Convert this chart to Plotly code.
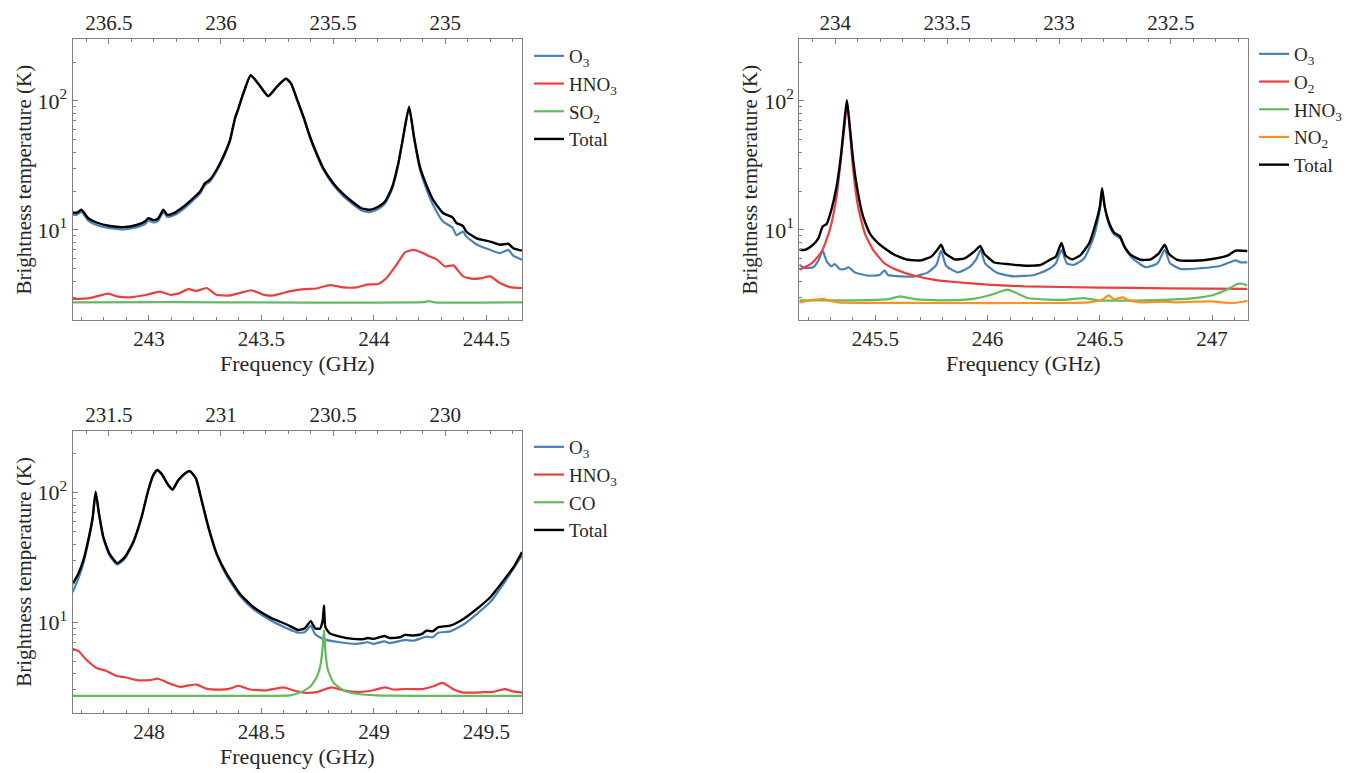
import plotly.graph_objects as go

# ---------------- Panel 1 (242.66-244.66 GHz) ----------------
p1_total_f = [242.661, 242.68, 242.70, 242.73, 242.767, 242.827, 242.886, 242.945, 242.982, 242.997,
              243.019, 243.04, 243.064, 243.081, 243.108, 243.153, 243.197, 243.227, 243.249, 243.27,
              243.30, 243.33, 243.36, 243.382, 243.397, 243.419, 243.452, 243.486, 243.530, 243.567,
              243.609, 243.632, 243.657, 243.687, 243.716, 243.745, 243.775, 243.819, 243.864, 243.908,
              243.945, 243.982, 244.019, 244.049, 244.079, 244.108, 244.130, 244.156, 244.178, 244.204,
              244.233, 244.263, 244.307, 244.349, 244.367, 244.396, 244.41, 244.456, 244.516, 244.56,
              244.597, 244.619, 244.658]
p1_total_t = [13.6, 13.6, 14.3, 12.3, 11.4, 10.7, 10.5, 10.9, 11.6, 12.3,
              11.9, 12.2, 14.3, 13.1, 13.4, 15.1, 17.6, 19.8, 23.0, 24.4,
              29.1, 36.9, 49.6, 73, 87, 114, 158, 136, 109, 128,
              149, 136, 104, 75, 52.7, 39.2, 30, 23, 18.9, 16.3,
              14.7, 14.3, 15.1, 16.6, 21, 32.7, 52.7, 90, 52.7, 30.9,
              22.3, 17.1, 13.5, 12.5, 11.3, 10.7, 9.7, 8.6, 8.1, 7.66,
              7.8, 7.2, 6.9]
p1_o3_f = p1_total_f
p1_o3_t = [13.1, 13.1, 13.8, 11.8, 10.9, 10.3, 10.1, 10.5, 11.1, 11.8,
           11.4, 11.7, 13.7, 12.6, 12.9, 14.5, 17.0, 19.1, 22.2, 23.6,
           28.3, 36.0, 48.6, 72, 86, 113, 157, 135, 108, 127,
           148, 135, 103, 73.5, 51.5, 38.2, 29.2, 22.3, 18.2, 15.7,
           14.1, 13.7, 14.5, 16.0, 20.3, 32, 52, 89, 51, 29.5,
           20.8, 15.6, 11.6, 10.4, 9.1, 9.7, 8.9, 7.7, 7.0, 6.6,
           7.0, 6.3, 5.86]
p1_hno3_f = [242.661, 242.738, 242.819, 242.856, 242.916, 242.99, 243.049, 243.093, 243.13, 243.175,
             243.212, 243.256, 243.30, 243.36, 243.404, 243.456, 243.508, 243.553, 243.597, 243.635,
             243.687, 243.745, 243.804, 243.864, 243.923, 243.967, 244.019, 244.056, 244.10, 244.138,
             244.175, 244.219, 244.249, 244.279, 244.316, 244.353, 244.396, 244.441, 244.479, 244.516,
             244.56, 244.604, 244.658]
p1_hno3_t = [2.91, 2.96, 3.2, 3.05, 3.0, 3.14, 3.32, 3.14, 3.2, 3.47,
             3.36, 3.54, 3.14, 3.1, 3.24, 3.4, 3.14, 3.1, 3.24, 3.36,
             3.47, 3.51, 3.73, 3.58, 3.58, 3.76, 3.8, 4.23, 5.35, 6.68,
             7.0, 6.6, 6.2, 5.9, 5.2, 5.3, 4.36, 4.17, 4.23, 4.36,
             3.87, 3.6, 3.54]
p1_so2_f = [242.661, 243.1, 244.22, 244.245, 244.27, 244.658]
p1_so2_t = [2.74, 2.75, 2.75, 2.8, 2.74, 2.74]

# ---------------- Panel 2 (245.16-247.16 GHz) ----------------
p2_total_f = [245.161, 245.186, 245.216, 245.246, 245.265, 245.283, 245.304, 245.327, 245.346, 245.361,
              245.373, 245.386, 245.401, 245.42, 245.445, 245.475, 245.512, 245.541, 245.586, 245.645,
              245.704, 245.749, 245.776, 245.793, 245.81, 245.853, 245.897, 245.941, 245.967, 245.986,
              246.03, 246.09, 246.119, 246.178, 246.237, 246.281, 246.304, 246.329, 246.348, 246.378,
              246.415, 246.453, 246.482, 246.50, 246.51, 246.522, 246.541, 246.564, 246.59, 246.608,
              246.638, 246.682, 246.727, 246.764, 246.789, 246.808, 246.845, 246.919, 247.009, 247.068,
              247.105, 247.158]
p2_total_t = [7.0, 7.0, 7.5, 8.6, 10.6, 11.1, 14.3, 21.6, 36.9, 66.8,
              101, 63, 34.7, 20.4, 12.7, 9.4, 7.9, 7.2, 6.4, 5.86,
              5.8, 6.2, 7.0, 7.66, 6.6, 5.9, 6.0, 6.8, 7.5, 6.5,
              5.58, 5.43, 5.35, 5.27, 5.35, 5.9, 6.2, 7.9, 6.3, 5.9,
              6.4, 7.9, 11.3, 15.1, 21, 15.1, 11.4, 9.5, 8.9, 7.5,
              6.4, 5.86, 5.9, 6.6, 7.66, 6.5, 5.86, 5.76, 5.97, 6.3,
              6.9, 6.85]
p2_o3_f = [245.161, 245.186, 245.223, 245.248, 245.265, 245.283, 245.304, 245.319, 245.341, 245.364,
           245.381, 245.408, 245.467, 245.519, 245.541, 245.556, 245.616, 245.675, 245.734, 245.772,
           245.793, 245.815, 245.867, 245.919, 245.949, 245.969, 245.989, 246.045, 246.119, 246.208,
           246.267, 246.304, 246.329, 246.353, 246.385, 246.43, 246.474, 246.50, 246.51, 246.527,
           246.544, 246.564, 246.59, 246.616, 246.653, 246.705, 246.757, 246.789, 246.813, 246.86,
           246.949, 247.039, 247.105, 247.127, 247.158]
p2_o3_t = [5.35, 5.06, 5.13, 5.86, 6.9, 5.7, 5.2, 5.43, 4.97, 4.97,
           5.13, 4.68, 4.41, 4.47, 4.85, 4.47, 4.36, 4.36, 4.68, 5.35,
           6.9, 5.27, 4.68, 5.13, 5.9, 7.0, 5.5, 4.62, 4.36, 4.47,
           4.9, 5.5, 7.0, 5.5, 5.35, 6.0, 8.9, 14.3, 19.2, 13.5,
           10.6, 9.2, 8.6, 7.0, 5.86, 5.13, 5.5, 7.0, 5.5, 4.97,
           5.04, 5.27, 5.8, 5.6, 5.6]
p2_o2_f = [245.161, 245.216, 245.261, 245.297, 245.327, 245.349, 245.364, 245.374, 245.386, 245.401,
           245.423, 245.453, 245.49, 245.541, 245.601, 245.675, 245.764, 245.853, 246.0, 246.164,
           246.5, 246.8, 247.158]
p2_o2_t = [4.91, 5.5, 6.8, 10, 18.1, 39, 67, 99, 59, 29,
           15.1, 9.4, 7.0, 5.5, 4.85, 4.41, 4.1, 3.94, 3.76, 3.65,
           3.57, 3.52, 3.48]
p2_hno3_f = [245.161, 245.261, 245.408, 245.556, 245.611, 245.675, 245.793, 245.926, 246.016, 246.09,
             246.134, 246.178, 246.267, 246.356, 246.43, 246.489, 246.71, 246.86, 246.949, 247.009,
             247.068, 247.113, 247.135, 247.158]
p2_hno3_t = [2.84, 2.84, 2.84, 2.9, 3.05, 2.9, 2.84, 2.9, 3.14, 3.44,
             3.2, 2.96, 2.88, 2.88, 2.96, 2.84, 2.84, 2.9, 3.0, 3.14,
             3.44, 3.8, 3.82, 3.7]
p2_no2_f = [245.161, 245.208, 245.238, 245.268, 245.29, 245.334, 245.75, 246.3, 246.45, 246.512,
            246.539, 246.564, 246.601, 246.63, 246.682, 246.786, 246.83, 246.927, 247.001, 247.04,
            247.1, 247.158]
p2_no2_t = [2.74, 2.84, 2.88, 2.92, 2.84, 2.74, 2.71, 2.71, 2.74, 2.88,
            3.1, 2.9, 3.0, 2.84, 2.74, 2.78, 2.74, 2.78, 2.79, 2.74,
            2.71, 2.82]

# ---------------- Panel 3 (247.66-249.66 GHz) ----------------
p3_total_f = [247.661, 247.686, 247.708, 247.73, 247.75, 247.763, 247.778, 247.797, 247.824, 247.859,
              247.893, 247.93, 247.967, 247.997, 248.019, 248.037, 248.056, 248.086, 248.105, 248.13,
              248.164, 248.182, 248.209, 248.234, 248.264, 248.301, 248.345, 248.404, 248.464, 248.538,
              248.612, 248.664, 248.693, 248.719, 248.738, 248.76, 248.772, 248.778, 248.784, 248.804,
              248.849, 248.908, 248.953, 248.972, 248.997, 249.046, 249.071, 249.116, 249.138, 249.175,
              249.212, 249.234, 249.261, 249.286, 249.338, 249.398, 249.458, 249.517, 249.576, 249.621,
              249.658]
p3_total_t = [19.8, 23.7, 30, 43, 65, 102, 69, 45.6, 33.9, 28.6,
              31.9, 41.7, 65, 105, 137, 150, 140, 115, 106, 125,
              143, 147, 129, 87.7, 54.5, 33.9, 23.7, 16.6, 13.1, 10.9,
              9.6, 8.7, 9.0, 10.2, 9.0, 8.9, 10.3, 13.5, 9.15, 8.2,
              7.74, 7.43, 7.4, 7.55, 7.43, 7.83, 7.55, 7.65, 7.98, 7.9,
              8.1, 8.6, 8.5, 9.15, 9.4, 10.6, 12.7, 15.6, 21, 26.7,
              34.9]
p3_o3_f = [247.661, 247.686, 247.708, 247.73, 247.75, 247.763, 247.778, 247.797, 247.824, 247.859,
           247.893, 247.93, 247.967, 247.997, 248.019, 248.037, 248.056, 248.086, 248.105, 248.13,
           248.164, 248.182, 248.209, 248.234, 248.264, 248.301, 248.345, 248.404, 248.464, 248.538,
           248.612, 248.664, 248.693, 248.719, 248.738, 248.775, 248.849, 248.923, 248.972, 248.997,
           249.046, 249.071, 249.138, 249.175, 249.234, 249.261, 249.286, 249.338, 249.398, 249.458,
           249.517, 249.576, 249.658]
p3_o3_t = [17.1, 21.7, 28.3, 41.5, 63.5, 100, 67.5, 44.5, 33, 27.9,
           31.1, 40.8, 64, 104, 136, 149, 139, 114, 105, 124,
           142, 146, 128, 86.5, 53.5, 33.1, 22.9, 16.0, 12.6, 10.4,
           9.0, 8.3, 8.4, 9.4, 8.1, 7.4, 7.0, 6.8, 7.0, 6.8,
           7.1, 6.9, 7.3, 7.2, 7.74, 7.65, 8.3, 8.5, 9.6, 11.6,
           14.3, 19.8, 32.8]
p3_hno3_f = [247.661, 247.686, 247.723, 247.767, 247.809, 247.856, 247.893, 247.945, 248.004, 248.041,
             248.079, 248.138, 248.175, 248.212, 248.256, 248.316, 248.36, 248.397, 248.449, 248.523,
             248.597, 248.64, 248.686, 248.745, 248.811, 248.864, 248.938, 248.997, 249.049, 249.086,
             249.145, 249.219, 249.264, 249.305, 249.353, 249.398, 249.486, 249.53, 249.581, 249.618,
             249.658]
p3_hno3_t = [6.2, 6.0, 5.1, 4.43, 4.22, 3.84, 3.76, 3.57, 3.57, 3.66,
             3.43, 3.17, 3.25, 3.3, 3.07, 3.02, 3.07, 3.23, 3.02, 2.98,
             3.14, 2.98, 2.86, 2.88, 3.14, 2.98, 2.89, 2.98, 3.14, 3.02,
             3.05, 3.05, 3.2, 3.4, 3.04, 2.86, 2.88, 2.9, 3.04, 2.92,
             2.86]
p3_co_f = [247.661, 248.5, 248.627, 248.671, 248.716, 248.745, 248.763, 248.772, 248.778, 248.784,
           248.794, 248.819, 248.864, 248.923, 249.012, 249.658]
p3_co_t = [2.7, 2.7, 2.72, 2.86, 3.17, 3.74, 4.73, 6.4, 8.7, 6.0,
           4.35, 3.43, 2.98, 2.8, 2.72, 2.7]

# ---------------- Axis ranges / labels ----------------
p1_range = [242.661, 244.658]
p1_image_range = [236.661, 234.658]
p2_range = [245.161, 247.158]
p2_image_range = [234.161, 232.158]
p3_range = [247.661, 249.658]
p3_image_range = [231.661, 229.658]
y_tick_vals = [10, 100]
y_tick_text = ["10<sup>1</sup>", "10<sup>2</sup>"]

BLUE = "#4A82B8"
RED = "#E8403F"
GREEN = "#62BB5E"
ORANGE = "#F7931E"
BLACK = "#000000"

fig = go.Figure()


def add(f, t, name, color, xa, ya, leg, width=2.2):
    fig.add_trace(go.Scatter(x=f, y=t, mode="lines", name=name,
                             line=dict(color=color, width=width, shape="spline", smoothing=0.5),
                             xaxis=xa, yaxis=ya, legend=leg))


add(p1_o3_f, p1_o3_t, "O<sub>3</sub>", BLUE, "x", "y", "legend")
add(p1_hno3_f, p1_hno3_t, "HNO<sub>3</sub>", RED, "x", "y", "legend")
add(p1_so2_f, p1_so2_t, "SO<sub>2</sub>", GREEN, "x", "y", "legend")
add(p1_total_f, p1_total_t, "Total", BLACK, "x", "y", "legend", 2.4)

add(p2_o3_f, p2_o3_t, "O<sub>3</sub>", BLUE, "x2", "y2", "legend2")
add(p2_o2_f, p2_o2_t, "O<sub>2</sub>", RED, "x2", "y2", "legend2")
add(p2_hno3_f, p2_hno3_t, "HNO<sub>3</sub>", GREEN, "x2", "y2", "legend2")
add(p2_no2_f, p2_no2_t, "NO<sub>2</sub>", ORANGE, "x2", "y2", "legend2")
add(p2_total_f, p2_total_t, "Total", BLACK, "x2", "y2", "legend2", 2.4)

add(p3_o3_f, p3_o3_t, "O<sub>3</sub>", BLUE, "x3", "y3", "legend3")
add(p3_hno3_f, p3_hno3_t, "HNO<sub>3</sub>", RED, "x3", "y3", "legend3")
add(p3_co_f, p3_co_t, "CO", GREEN, "x3", "y3", "legend3")
add(p3_total_f, p3_total_t, "Total", BLACK, "x3", "y3", "legend3", 2.4)

# invisible carriers so that the top (image-band) axes are drawn
for xa, ya, rng in (("x4", "y", p1_image_range), ("x5", "y2", p2_image_range), ("x6", "y3", p3_image_range)):
    fig.add_trace(go.Scatter(x=rng, y=[3, 3], mode="lines", line=dict(width=0, color="rgba(0,0,0,0)"),
                             xaxis=xa, yaxis=ya, showlegend=False, hoverinfo="skip"))

AX = "#7f7f7f"
TXT = "#262626"
FONT = "Liberation Serif, Times New Roman, serif"

xdom_left = [72.7 / 1350, 522 / 1350]
xdom_right = [799.3 / 1350, 1247.5 / 1350]
ydom_top = [1 - 320 / 773, 1 - 39.3 / 773]
ydom_bot = [1 - 712.7 / 773, 1 - 431 / 773]


def xbottom(dom, rng, anchor):
    return dict(domain=dom, range=rng, anchor=anchor, tick0=243, dtick=0.5,
                ticks="inside", ticklen=5, tickcolor=AX, showline=True, linecolor=AX,
                linewidth=1, showgrid=False, zeroline=False,
                tickfont=dict(size=21, color=TXT, family=FONT),
                minor=dict(dtick=0.1, tick0=243, ticks="inside", ticklen=3, tickcolor=AX, showgrid=False),
                title=dict(text="Frequency (GHz)", font=dict(size=22, color=TXT, family=FONT), standoff=2))


def xtop(over, rng, anchor):
    return dict(overlaying=over, range=rng, anchor=anchor, side="top", tick0=230, dtick=0.5,
                ticks="inside", ticklen=5, tickcolor=AX, showline=True, linecolor=AX,
                linewidth=1, showgrid=False, zeroline=False,
                tickfont=dict(size=21, color=TXT, family=FONT),
                minor=dict(dtick=0.1, tick0=230, ticks="inside", ticklen=3, tickcolor=AX, showgrid=False))


def yax(dom, anchor):
    return dict(domain=dom, anchor=anchor, type="log", range=[0.30103, 2.47712],
                tickvals=y_tick_vals, ticktext=y_tick_text,
                ticks="inside", ticklen=5, tickcolor=AX, showline=True, linecolor=AX,
                linewidth=1, mirror=True, showgrid=False, zeroline=False,
                tickfont=dict(size=22, color=TXT, family=FONT),
                minor=dict(dtick="D1", ticks="inside", ticklen=3, tickcolor=AX, showgrid=False),
                title=dict(text="Brightness temperature (K)", font=dict(size=21, color=TXT, family=FONT), standoff=0))


leg_common = dict(font=dict(size=19, color=TXT, family=FONT), bgcolor="rgba(0,0,0,0)",
                  xanchor="left", yanchor="top", itemwidth=30, tracegroupgap=0)

fig.update_layout(
    width=1350, height=773,
    margin=dict(l=0, r=0, t=0, b=0),
    paper_bgcolor="white", plot_bgcolor="white",
    font=dict(family=FONT, color=TXT),
    xaxis=xbottom(xdom_left, p1_range, "y"),
    xaxis2=xbottom(xdom_right, p2_range, "y2"),
    xaxis3=xbottom(xdom_left, p3_range, "y3"),
    xaxis4=xtop("x", p1_image_range, "y"),
    xaxis5=xtop("x2", p2_image_range, "y2"),
    xaxis6=xtop("x3", p3_image_range, "y3"),
    yaxis=yax(ydom_top, "x"),
    yaxis2=yax(ydom_top, "x2"),
    yaxis3=yax(ydom_bot, "x3"),
    legend=dict(x=529 / 1350, y=1 - 37 / 773, **leg_common),
    legend2=dict(x=1254 / 1350, y=1 - 35 / 773, **leg_common),
    legend3=dict(x=529 / 1350, y=1 - 428 / 773, **leg_common),
)

fig.write_html("out.html", config={"displayModeBar": False},
               post_script="document.body.style.margin='0';")
